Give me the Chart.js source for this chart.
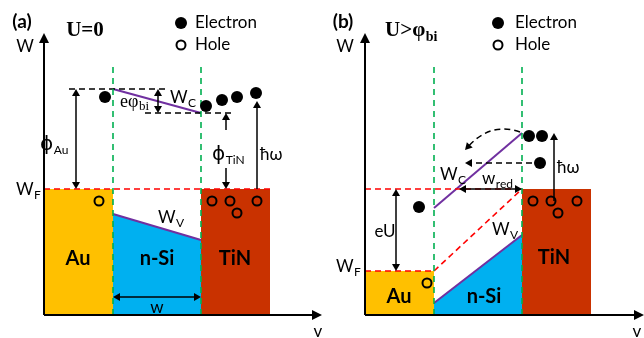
<!DOCTYPE html>
<html><head><meta charset="utf-8">
<script src="https://cdn.jsdelivr.net/npm/chart.js@4.4.0/dist/chart.umd.min.js"></script>
<style>
html,body{margin:0;padding:0;background:#fff;overflow:hidden}
#wrap{position:relative;width:644px;height:338px}
canvas{position:absolute;top:0}
#ca{left:0}#cb{left:322px}
</style></head><body>
<div id="wrap"><canvas id="ca" width="322" height="338"></canvas><canvas id="cb" width="322" height="338"></canvas></div>
<script>
// ---------- data (position v, energy W; arbitrary units) ----------
const layers = ['Au', 'n-Si', 'TiN'];
const layerBounds = [0, 6.9, 15.7, 22.6];      // v at Au start, Au/n-Si, n-Si/TiN, TiN end
const axisTop = 28.2;
const axisEndA = 27.8, axisEndB = 27.9;
const interfaceTop = 25.2;

// panel (a) U = 0
const a_fermi = 12.6;                 // common Fermi level
const a_Wc = [22.6, 20.2];            // conduction band edge at Au/n-Si and n-Si/TiN
const a_Wv = [10.1, 7.5];             // valence band edge
const a_electronsV = [6.1, 16.2, 17.8, 19.3, 21.2];
const a_electronsW = [21.8, 20.9, 21.5, 21.8, 22.2];
const a_holesV = [5.5, 16.8, 18.6, 19.3, 21.3];
const a_holesW = [11.4, 11.4, 11.4, 10.2, 11.4];

// panel (b) U > phi_bi
const b_fermiAu = 4.4, b_fermiTiN = 12.6;
const b_Wc = [10.7, 18.2];
const b_Wv = [1.2, 8.0];
const b_electronsV = [5.4, 16.4, 17.7, 17.5];
const b_electronsW = [10.8, 17.9, 17.9, 15.2];
const b_holesV = [6.2, 16.8, 18.6, 19.3, 21.2];
const b_holesW = [3.2, 11.4, 11.4, 10.2, 11.4];

// ---------- styles ----------
const C_AU = '#FFC000', C_SI = '#00B0F0', C_TIN = '#C93200';
const C_PURPLE = '#7030A0', C_GREEN = '#00B050', C_RED = '#FF0000';
const SANS = 'Lato, "Liberation Sans", sans-serif';
const SERIF = '"Liberation Serif", "DejaVu Serif", serif';

const P = (xs, ys) => xs.map((x, i) => ({x, y: ys[i]}));

function seg(pts, color, width, dash, extra) {
  return Object.assign({
    type: 'line', data: pts.map(p => ({x: p[0], y: p[1]})),
    borderColor: color, borderWidth: width, borderDash: dash || [],
    pointRadius: 0, fill: false, tension: 0, order: 5
  }, extra || {});
}
function fillBlock(x0, x1, y0, y1, color, border) {
  return seg([[x0, y0], [x1, y1]], border || color, border ? 2 : 0, [], {
    fill: 'origin', backgroundColor: color, order: 10
  });
}
function electrons(xs, ys) {
  return {type: 'line', data: P(xs, ys), showLine: false, pointRadius: 6,
    pointBackgroundColor: '#000', pointBorderColor: '#000', pointBorderWidth: 0, order: 1};
}
function holes(xs, ys) {
  return {type: 'line', data: P(xs, ys), showLine: false, pointRadius: 4.5,
    pointBackgroundColor: 'rgba(0,0,0,0)', pointBorderColor: '#000', pointBorderWidth: 2, order: 1};
}

// ---------- decoration plugin (arrows, curves, text through the chart scales) ----------
function head(ctx, fx, fy, tx, ty, len, hw) {
  const a = Math.atan2(ty - fy, tx - fx);
  ctx.beginPath();
  ctx.moveTo(tx, ty);
  ctx.lineTo(tx - len * Math.cos(a) + hw * Math.sin(a), ty - len * Math.sin(a) - hw * Math.cos(a));
  ctx.lineTo(tx - len * Math.cos(a) - hw * Math.sin(a), ty - len * Math.sin(a) + hw * Math.cos(a));
  ctx.closePath();
  ctx.fill();
}
const deco = {
  id: 'deco',
  afterDatasetsDraw(chart, args, opts) {
    const ctx = chart.ctx, sx = chart.scales.x, sy = chart.scales.y;
    const X = v => sx.getPixelForValue(v), Y = v => sy.getPixelForValue(v);
    ctx.save();
    ctx.fillStyle = '#000'; ctx.strokeStyle = '#000';
    (opts.arrows || []).forEach(a => {
      const x1 = X(a[0]), y1 = Y(a[1]), x2 = X(a[2]), y2 = Y(a[3]);
      const lw = a[5] || 1.5, len = lw > 1.8 ? 10 : 7, hw = lw > 1.8 ? 5 : 4;
      ctx.lineWidth = lw;
      ctx.setLineDash(a[6] ? [6, 4] : []);
      const ang = Math.atan2(y2 - y1, x2 - x1);
      const sx2 = x2 - (len - 1) * Math.cos(ang), sy2 = y2 - (len - 1) * Math.sin(ang);
      let sx1 = x1, sy1 = y1;
      if (a[4]) { sx1 = x1 + (len - 1) * Math.cos(ang); sy1 = y1 + (len - 1) * Math.sin(ang); }
      ctx.beginPath(); ctx.moveTo(sx1, sy1); ctx.lineTo(sx2, sy2); ctx.stroke();
      ctx.setLineDash([]);
      head(ctx, x1, y1, x2, y2, len, hw);
      if (a[4]) head(ctx, x2, y2, x1, y1, len, hw);
    });
    (opts.curves || []).forEach(c => {
      const x1 = X(c[0]), y1 = Y(c[1]), cx = X(c[2]), cy = Y(c[3]), x2 = X(c[4]), y2 = Y(c[5]);
      ctx.lineWidth = 1.5; ctx.setLineDash([6, 4]);
      const ang = Math.atan2(y2 - cy, x2 - cx);
      ctx.beginPath(); ctx.moveTo(x1, y1);
      ctx.quadraticCurveTo(cx, cy, x2 - 6 * Math.cos(ang), y2 - 6 * Math.sin(ang)); ctx.stroke();
      ctx.setLineDash([]);
      head(ctx, cx, cy, x2, y2, 7, 4);
    });
    (opts.labels || []).forEach(l => {
      ctx.font = l.f; ctx.textBaseline = 'middle'; ctx.fillStyle = '#000';
      let x = X(l.x); const y = Y(l.y);
      if (l.sub) {
        const w = ctx.measureText(l.t).width;
        ctx.font = l.sf; const ws = ctx.measureText(l.sub).width;
        if (l.al === 'center') x -= (w + ws) / 2;
        ctx.font = l.f; ctx.textAlign = 'left'; ctx.fillText(l.t, x, y);
        ctx.font = l.sf; ctx.fillText(l.sub, x + w + 0.5, y + (l.dy || 5));
      } else {
        ctx.textAlign = l.al || 'left'; ctx.fillText(l.t, x, y);
      }
    });
    ctx.restore();
  }
};

function makeChart(id, xmin, datasets, decoOpts) {
  return new Chart(document.getElementById(id), {
    type: 'line',
    data: {datasets},
    options: {
      responsive: false, animation: false, devicePixelRatio: 1,
      layout: {padding: 0, autoPadding: false},
      events: [],
      plugins: {legend: {display: false}, tooltip: {enabled: false}, deco: decoOpts},
      scales: {
        x: {type: 'linear', min: xmin, max: xmin + 32.2, display: false},
        y: {type: 'linear', min: -2.3, max: 31.5, display: false}
      }
    },
    plugins: [deco]
  });
}

const L = layerBounds;
const f17 = '17px ' + SANS, s12 = '12px ' + SANS, phi = '20px "DejaVu Sans", sans-serif';
const bold20 = 'bold 20px ' + SANS;

// ---------- panel (a) ----------
const dsA = [
  fillBlock(L[0], L[1], a_fermi, a_fermi, C_AU),
  fillBlock(L[1], L[2], a_Wv[0], a_Wv[1], C_SI, C_PURPLE),
  fillBlock(L[2], L[3], a_fermi, a_fermi, C_TIN),
  seg([[L[1], 0], [L[1], interfaceTop]], C_GREEN, 1.6, [6, 5]),
  seg([[L[2], 0], [L[2], interfaceTop]], C_GREEN, 1.6, [6, 5]),
  seg([[L[0], a_fermi], [L[3], a_fermi]], C_RED, 1.6, [6, 4]),
  seg([[2.5, a_Wc[0]], [12.1, a_Wc[0]]], '#000', 1.5, [6, 4]),
  seg([[10.1, a_Wc[1]], [18.8, a_Wc[1]]], '#000', 1.5, [6, 4]),
  seg([[L[1], a_Wc[0]], [L[2], a_Wc[1]]], C_PURPLE, 2),
  electrons([13.7], [29.2]), holes([13.7], [27.0]),
  electrons(a_electronsV, a_electronsW), holes(a_holesV, a_holesW)
];
const decoA = {
  arrows: [
    [0, 0, 0, axisTop, false, 2], [0, 0, axisEndA, 0, false, 2],
    [3.2, a_fermi, 3.2, a_Wc[0], true],
    [11.4, a_Wc[1], 11.4, a_Wc[0], true],
    [18.2, 18.5, 18.2, a_Wc[1]], [18.2, 14.7, 18.2, a_fermi],
    [21.3, a_fermi, 21.3, 21.4],
    [L[1], 1.8, L[2], 1.8, true]
  ],
  labels: [
    {t: '(a)', x: -2.2, y: 29.3, f: 'bold 19px ' + SANS, al: 'center'},
    {t: 'U=0', x: 4.1, y: 28.4, f: 'bold 21px ' + SERIF, al: 'center'},
    {t: 'Electron', x: 15.1, y: 29.2, f: f17},
    {t: 'Hole', x: 15.1, y: 27.0, f: f17},
    {t: 'W', x: -1.9, y: 26.8, f: f17, al: 'center'},
    {t: 'W', sub: 'F', x: -2.8, y: 12.5, f: f17, sf: s12},
    {t: 'ϕ', sub: 'Au', x: -0.4, y: 17.0, f: phi, sf: s12},
    {t: 'eφ', sub: 'bi', x: 7.6, y: 21.3, f: '18px ' + SERIF, sf: '13px ' + SERIF},
    {t: 'W', sub: 'C', x: 12.6, y: 21.7, f: f17, sf: s12},
    {t: 'ϕ', sub: 'TiN', x: 16.8, y: 16.0, f: phi, sf: s12},
    {t: 'ħω', x: 21.6, y: 16.0, f: f17},
    {t: 'W', sub: 'V', x: 11.4, y: 9.7, f: f17, sf: s12},
    {t: layers[0], x: 3.4, y: 5.6, f: bold20, al: 'center'},
    {t: layers[1], x: 11.3, y: 5.6, f: bold20, al: 'center'},
    {t: layers[2], x: 19.1, y: 5.6, f: bold20, al: 'center'},
    {t: 'w', x: 11.3, y: 0.75, f: f17, al: 'center'},
    {t: 'v', x: 27.4, y: -1.7, f: f17, al: 'center'}
  ]
};
makeChart('ca', -4.4, dsA, decoA);

// ---------- panel (b) ----------
const dsB = [
  fillBlock(L[0], L[1], b_fermiAu, b_fermiAu, C_AU),
  fillBlock(L[1], L[2], b_Wv[0], b_Wv[1], C_SI, C_PURPLE),
  fillBlock(L[2], L[3], b_fermiTiN, b_fermiTiN, C_TIN),
  seg([[L[1], 0], [L[1], interfaceTop]], C_GREEN, 1.6, [6, 5]),
  seg([[L[2], 0], [L[2], interfaceTop]], C_GREEN, 1.6, [6, 5]),
  seg([[L[0], b_fermiTiN], [L[2], b_fermiTiN]], C_RED, 1.6, [6, 4]),
  seg([[L[0], b_fermiAu], [L[1], b_fermiAu]], C_RED, 1.6, [6, 4]),
  seg([[L[1], b_fermiAu], [L[2], b_fermiTiN]], C_RED, 1.6, [6, 4]),
  seg([[L[1], b_Wc[0]], [L[2], b_Wc[1]]], C_PURPLE, 2),
  electrons([13.3], [29.2]), holes([13.3], [27.0]),
  electrons(b_electronsV, b_electronsW), holes(b_holesV, b_holesW)
];
const decoB = {
  arrows: [
    [0, 0, 0, axisTop, false, 2], [0, 0, axisEndB, 0, false, 2],
    [3.1, b_fermiAu, 3.1, b_fermiTiN, true],
    [9.4, b_fermiTiN, L[2], b_fermiTiN, true],
    [18.9, 11.4, 18.9, 18.2],
    [16.7, 15.2, 10.0, 15.2, false, 1.5, true]
  ],
  curves: [[15.5, 18.3, 12.6, 19.3, 10.0, 16.5]],
  labels: [
    {t: '(b)', x: -2.2, y: 29.3, f: 'bold 19px ' + SANS, al: 'center'},
    {t: 'U>φ', sub: 'bi', x: 2.0, y: 28.4, f: 'bold 21px ' + SERIF, sf: 'bold 14px ' + SERIF, dy: 6},
    {t: 'Electron', x: 15.0, y: 29.2, f: f17},
    {t: 'Hole', x: 15.0, y: 27.0, f: f17},
    {t: 'W', x: -2.0, y: 26.8, f: f17, al: 'center'},
    {t: 'W', sub: 'F', x: -2.9, y: 4.8, f: f17, sf: s12},
    {t: 'eU', x: 2.0, y: 8.3, f: f17, al: 'center'},
    {t: 'W', sub: 'C', x: 7.5, y: 14.0, f: f17, sf: s12},
    {t: 'w', sub: 'red', x: 11.7, y: 13.6, f: f17, sf: s12},
    {t: 'ħω', x: 19.2, y: 14.7, f: f17},
    {t: 'W', sub: 'V', x: 12.7, y: 8.5, f: f17, sf: s12},
    {t: layers[0], x: 3.4, y: 1.8, f: bold20, al: 'center'},
    {t: layers[1], x: 11.9, y: 1.8, f: bold20, al: 'center'},
    {t: layers[2], x: 18.9, y: 5.7, f: bold20, al: 'center'},
    {t: 'v', x: 27.2, y: -1.7, f: f17, al: 'center'}
  ]
};
makeChart('cb', -4.3, dsB, decoB);
</script>
</body></html>
